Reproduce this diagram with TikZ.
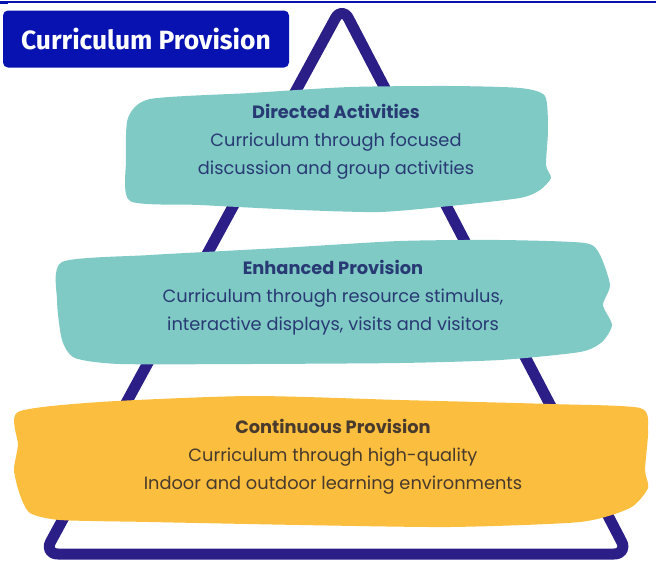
\documentclass[tikz,border=0pt]{standalone}
\usepackage{fontspec}
\setmainfont{Poppins}
\newfontfamily\titlefont{Fira Sans}
\definecolor{navyline}{RGB}{43,30,135}
\definecolor{tealfill}{RGB}{128,202,197}
\definecolor{yellowfill}{RGB}{251,190,62}
\definecolor{titleblue}{RGB}{8,18,176}
\definecolor{navytext}{RGB}{40,58,116}
\definecolor{browntext}{RGB}{72,58,44}
\tikzset{
  layertext/.style={align=center, font=\fontsize{17.8}{28}\selectfont},
  titlebox/.style={fill=titleblue, rounded corners=5, minimum width=286, minimum height=57,
    text=white, font=\titlefont\bfseries\fontsize{26.4}{28}\selectfont},
}
\begin{document}
\begin{tikzpicture}[x=1pt,y=-1pt]
        \useasboundingbox (0,0) rectangle (656,563);
        % thin rule along the top
        \fill[titleblue] (0,0.5) rectangle (656,2.5);
        \fill[titleblue] (0,2.5) rectangle (8,4);
        % pyramid outline
        \draw[navyline, line width=11, rounded corners=14, line join=round] (44,554) -- (342,6) -- (628,554) -- cycle;
        % brush strokes
        \fill[tealfill] plot[smooth cycle, tension=0.4] coordinates {(128,118) (150,99) (250,93) (350,87) (450,86) (520,88) (545,96) (548,130) (546,165) (551,178) (540,190) (520,198) (450,206) (380,212) (300,210) (200,205) (130,201) (126,160)};
        \fill[tealfill] plot[smooth cycle, tension=0.4] coordinates {(62,262) (150,255) (280,248) (400,241) (500,240) (585,243) (600,255) (610,285) (603,305) (612,325) (602,342) (580,352) (500,360) (400,363) (250,364) (120,364) (75,358) (62,340) (57,300)};
        \fill[yellowfill] plot[smooth cycle, tension=0.4] coordinates {(18,412) (100,402) (250,396) (400,400) (550,404) (640,408) (648,430) (645,470) (648,488) (630,508) (580,522) (450,527) (300,525) (150,522) (60,520) (30,513) (20,495) (14,470) (18,445)};
        % title
        \node[titlebox] (title) at (146,39) {Curriculum Provision};
        % layer texts
        \def \Layers{ directed/336/142/navytext/Directed Activities/Curriculum through focused/discussion and group activities, enhanced/333/298/navytext/Enhanced Provision/{Curriculum through resource stimulus,}/{interactive displays, visits and visitors}, continuous/333/457/browntext/Continuous Provision/Curriculum through high-quality/Indoor and outdoor learning environments}
        \foreach \id / \x / \y / \c / \h / \a / \b in \Layers{
            \node[layertext, text=\c] (\id) at (\x, \y) {\textbf{\h}\\\a\\\b};
        }
\end{tikzpicture}
\end{document}
